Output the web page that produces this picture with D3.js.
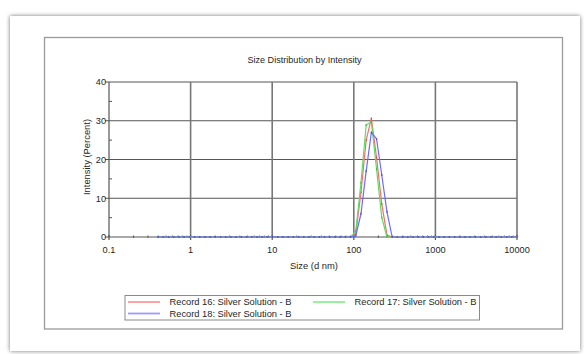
<!DOCTYPE html>
<html>
<head>
<meta charset="utf-8">
<script src="https://cdn.jsdelivr.net/npm/d3@7"></script>
<style>
  html, body { margin: 0; padding: 0; background: #ffffff; }
  svg { display: block; }
  text { font-family: "Liberation Sans", Arial, sans-serif; fill: #262626; }
</style>
</head>
<body>
<svg id="chart" width="584" height="354"></svg>
<script>
// Size classes (d nm) of the intensity distribution
const sizes = [0.4, 0.4632, 0.5365, 0.6213, 0.7195, 0.8332, 0.9649, 1.117, 1.294, 1.499,
  1.736, 2.010, 2.328, 2.696, 3.122, 3.615, 4.187, 4.849, 5.615, 6.503,
  7.531, 8.721, 10.10, 11.70, 13.54, 15.69, 18.17, 21.04, 24.36, 28.21,
  32.67, 37.84, 43.82, 50.75, 58.77, 68.06, 78.82, 91.28, 105.7, 122.4,
  141.8, 164.2, 190.1, 220.2, 255.0, 295.3, 342.0, 396.1, 458.7, 531.2,
  615.1, 712.4, 825.0, 955.4, 1106, 1281, 1484, 1718, 1990, 2305,
  2669, 3091, 3580, 4145, 4801, 5560, 6439, 7456, 8635, 10000];

// Intensity (%) per size class
const record16 = [0, 0, 0, 0, 0, 0, 0, 0, 0, 0,
  0, 0, 0, 0, 0, 0, 0, 0, 0, 0,
  0, 0, 0, 0, 0, 0, 0, 0, 0, 0,
  0, 0, 0, 0, 0, 0, 0, 0, 0.8, 11.5,
  25.0, 30.6, 20.5, 8.5, 0.5, 0, 0, 0, 0, 0,
  0, 0, 0, 0, 0, 0, 0, 0, 0, 0,
  0, 0, 0, 0, 0, 0, 0, 0, 0, 0];
const record17 = [0, 0, 0, 0, 0, 0, 0, 0, 0, 0,
  0, 0, 0, 0, 0, 0, 0, 0, 0, 0,
  0, 0, 0, 0, 0, 0, 0, 0, 0, 0,
  0, 0, 0, 0, 0, 0, 0, 0, 1.5, 14.0,
  28.9, 29.7, 17.5, 5.0, 0, 0, 0, 0, 0, 0,
  0, 0, 0, 0, 0, 0, 0, 0, 0, 0,
  0, 0, 0, 0, 0, 0, 0, 0, 0, 0];
const record18 = [0, 0, 0, 0, 0, 0, 0, 0, 0, 0,
  0, 0, 0, 0, 0, 0, 0, 0, 0, 0,
  0, 0, 0, 0, 0, 0, 0, 0, 0, 0,
  0, 0, 0, 0, 0, 0, 0, 0, 0.3, 6.0,
  17.0, 27.0, 25.3, 16.0, 6.5, 0, 0, 0, 0, 0,
  0, 0, 0, 0, 0, 0, 0, 0, 0, 0,
  0, 0, 0, 0, 0, 0, 0, 0, 0, 0];

const seriesNames = ["Record 16: Silver Solution - B", "Record 17: Silver Solution - B", "Record 18: Silver Solution - B"];
const seriesColors = ["#ff6b6b", "#5fdc5f", "#6b6bff"];
const legendColors = ["#ff9a9a", "#90f090", "#9a9aff"];
const xTicks = [0.1, 1, 10, 100, 1000, 10000];
const xTickLabels = ["0.1", "1", "10", "100", "1000", "10000"];
const yTicks = [0, 10, 20, 30, 40];
const yMinorTicks = [5, 15, 25, 35];

const title = "Size Distribution by Intensity";
const xTitle = "Size (d nm)";
const yTitle = "Intensity (Percent)";

const svg = d3.select("#chart");

// soft shadow around the card
const defs = svg.append("defs");
const f = defs.append("filter").attr("id", "cardShadow")
  .attr("x", "-5%").attr("y", "-5%").attr("width", "110%").attr("height", "110%");
f.append("feDropShadow").attr("dx", 0).attr("dy", 0).attr("stdDeviation", 2)
  .attr("flood-color", "#000").attr("flood-opacity", 0.55);

svg.append("rect").attr("x", 10).attr("y", 16).attr("width", 570).attr("height", 335)
  .attr("fill", "#fff").attr("filter", "url(#cardShadow)");

// chart frame
svg.append("rect").attr("x", 44.5).attr("y", 37.5).attr("width", 518).attr("height", 291.5)
  .attr("fill", "#fff").attr("stroke", "#9a9a9a").attr("stroke-width", 1.3);

const plot = { left: 109, right: 517, top: 82, bottom: 237 };
const x = d3.scaleLog().domain([0.1, 10000]).range([plot.left, plot.right]);
const y = d3.scaleLinear().domain([0, 40]).range([plot.bottom, plot.top]);

// title
svg.append("text").attr("x", 304.5).attr("y", 62.5).attr("text-anchor", "middle")
  .attr("font-size", 9.1).text(title);

const g = svg.append("g");

// horizontal grid
g.selectAll("line.hgrid").data(yTicks.filter(d => d > 0)).join("line")
  .attr("x1", plot.left).attr("x2", plot.right)
  .attr("y1", d => y(d)).attr("y2", d => y(d))
  .attr("stroke", "#555").attr("stroke-width", 1);

// vertical decade grid
g.selectAll("line.vgrid").data(xTicks.slice(1)).join("line")
  .attr("x1", d => x(d)).attr("x2", d => x(d))
  .attr("y1", plot.top).attr("y2", plot.bottom)
  .attr("stroke", "#777").attr("stroke-width", 1.6);

// left axis
g.append("line").attr("x1", plot.left).attr("x2", plot.left)
  .attr("y1", plot.top).attr("y2", plot.bottom)
  .attr("stroke", "#555").attr("stroke-width", 1.2);
g.selectAll("line.ymaj").data(yTicks).join("line")
  .attr("x1", plot.left - 4).attr("x2", plot.left)
  .attr("y1", d => y(d)).attr("y2", d => y(d))
  .attr("stroke", "#555").attr("stroke-width", 1);
g.selectAll("line.ymin").data(yMinorTicks).join("line")
  .attr("x1", plot.left).attr("x2", plot.left + 3)
  .attr("y1", d => y(d)).attr("y2", d => y(d))
  .attr("stroke", "#555").attr("stroke-width", 1);
g.selectAll("text.ylab").data(yTicks).join("text")
  .attr("x", plot.left - 3).attr("y", d => y(d) + 3.3)
  .attr("text-anchor", "end").attr("font-size", 9.2).text(d => d);

// bottom axis
g.append("line").attr("x1", plot.left).attr("x2", plot.right)
  .attr("y1", plot.bottom).attr("y2", plot.bottom)
  .attr("stroke", "#555").attr("stroke-width", 1.2);
g.selectAll("line.xmaj").data(xTicks).join("line")
  .attr("x1", d => x(d)).attr("x2", d => x(d))
  .attr("y1", plot.bottom - 2).attr("y2", plot.bottom + 3)
  .attr("stroke", "#555").attr("stroke-width", 1.2);
const minorX = [];
xTicks.slice(0, -1).forEach(d => { for (let k = 2; k <= 9; k++) minorX.push(d * k); });
g.selectAll("line.xmin").data(minorX).join("line")
  .attr("x1", d => x(d)).attr("x2", d => x(d))
  .attr("y1", plot.bottom - 1.5).attr("y2", plot.bottom + 1)
  .attr("stroke", "#555").attr("stroke-width", 1);
g.selectAll("text.xlab").data(xTicks).join("text")
  .attr("x", d => x(d)).attr("y", plot.bottom + 15.5)
  .attr("text-anchor", "middle").attr("font-size", 9.2)
  .text((d, i) => xTickLabels[i]);

// axis titles
svg.append("text").attr("x", 314).attr("y", 268.5).attr("text-anchor", "middle")
  .attr("font-size", 9.4).text(xTitle);
svg.append("text").attr("transform", "translate(90,157) rotate(-90)")
  .attr("text-anchor", "middle").attr("font-size", 9.4)
  .text(yTitle);

// distribution curves
const series = [record16, record17, record18];
const line = d3.line().x(d => x(d[0])).y(d => y(d[1]));
series.forEach((vals, i) => {
  const pts = sizes.map((s, j) => [s, vals[j]]);
  g.append("path").datum(pts).attr("d", line)
    .attr("fill", "none").attr("stroke", seriesColors[i]).attr("stroke-width", 1.2)
    .attr("stroke-linejoin", "round");
  g.selectAll("rect.m" + i).data(pts).join("rect")
    .attr("x", d => x(d[0]) - 0.6).attr("y", d => y(d[1]) - 1)
    .attr("width", 1.2).attr("height", 2)
    .attr("fill", d3.color(seriesColors[i]).darker(0.6));
});

// legend
const lg = svg.append("g");
lg.append("rect").attr("x", 125).attr("y", 295.5).attr("width", 354.5).attr("height", 24.5)
  .attr("fill", "#fff").attr("stroke", "#8a8a8a").attr("stroke-width", 1);
const legendPos = [[128, 302], [313, 302], [128, 313.5]];
seriesNames.forEach((name, i) => {
  const [lx, ly] = legendPos[i];
  lg.append("line").attr("x1", lx).attr("x2", lx + 32).attr("y1", ly).attr("y2", ly)
    .attr("stroke", legendColors[i]).attr("stroke-width", 1.8);
  lg.append("text").attr("x", lx + 41.5).attr("y", ly + 3.4).attr("font-size", 9.3)
    .text(name);
});
</script>
</body>
</html>
